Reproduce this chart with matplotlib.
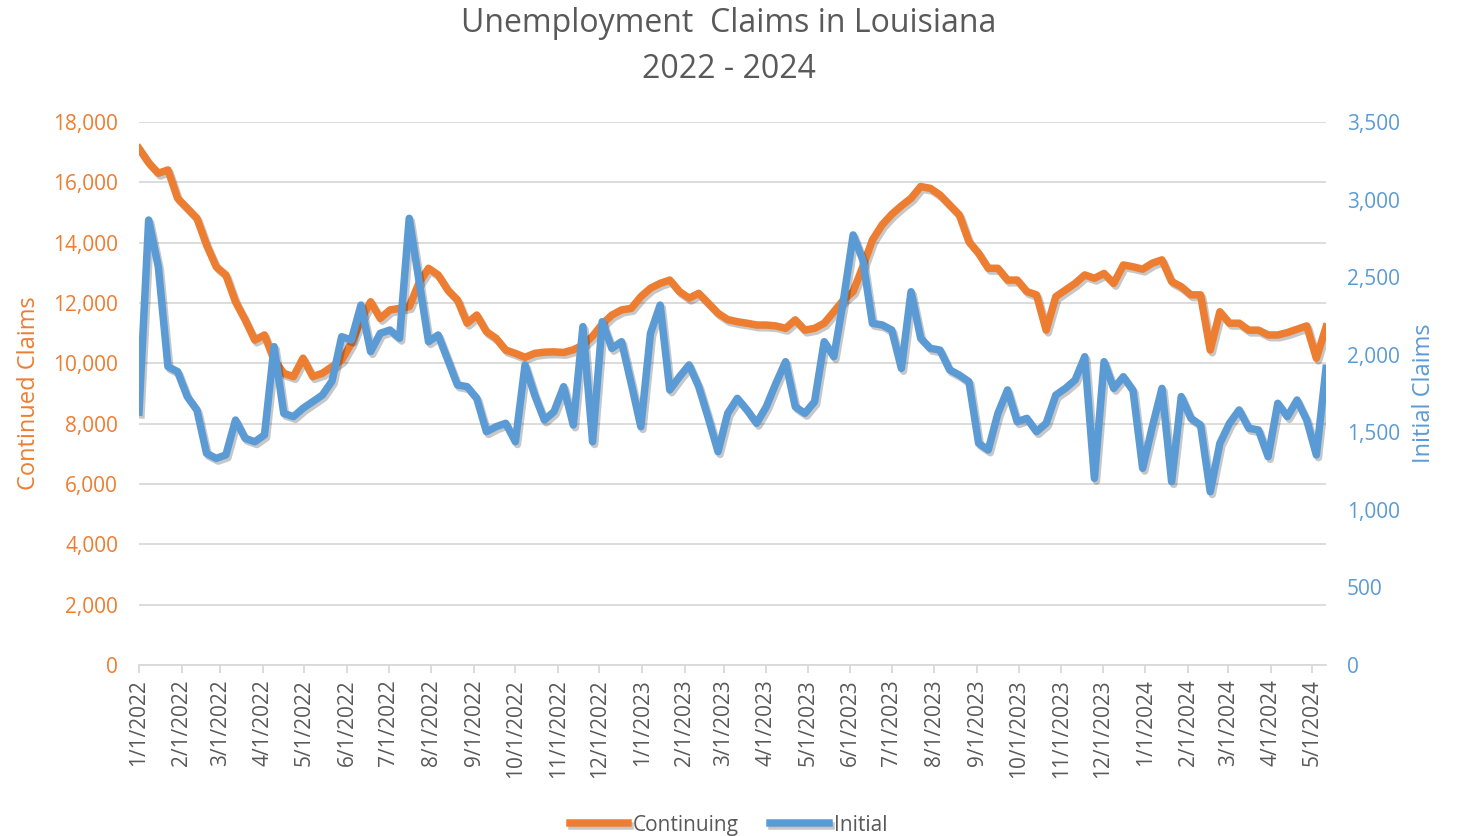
import matplotlib
matplotlib.use('Agg')
import matplotlib.pyplot as plt
import matplotlib.patheffects as pe
import datetime as dt

# weekly data, week ending 1/1/2022 .. 5/11/2024
start = dt.date(2022, 1, 1)
n_weeks = 124
weeks = [start + dt.timedelta(days=7 * i) for i in range(n_weeks)]

continuing = [
    17120, 16650, 16300, 16410, 15470, 15140, 14810, 13920, 13200, 12930,
    12040, 11440, 10770, 10940, 10110, 9670, 9560, 10170, 9560, 9670,
    9890, 10110, 10660, 11440, 12040, 11490, 11770, 11820, 11880, 12650,
    13150, 12930, 12430, 12100, 11330, 11600, 11050, 10830, 10440, 10330,
    10200, 10330, 10370, 10380, 10360, 10450, 10600, 10900, 11300, 11600,
    11770, 11820, 12210, 12490, 12650, 12760, 12380, 12160, 12320, 11990,
    11660, 11450, 11380, 11330, 11270, 11270, 11240, 11160, 11440, 11100,
    11160, 11330, 11710, 12100, 12380, 13200, 14090, 14590, 14940, 15220,
    15470, 15860, 15800, 15580, 15250, 14920, 14030, 13650, 13150, 13150,
    12760, 12760, 12380, 12270, 11100, 12210, 12430, 12650, 12930, 12820,
    12980, 12650, 13260, 13200, 13120, 13320, 13430, 12710, 12540, 12270,
    12270, 10440, 11710, 11330, 11330, 11100, 11100, 10940, 10940, 11020,
    11130, 11240, 10170, 11200,
]

initial = [
    1630, 2868, 2567, 1923, 1891, 1730, 1644, 1364, 1332, 1354,
    1579, 1461, 1439, 1483, 2052, 1622, 1601, 1655, 1697, 1740,
    1830, 2116, 2095, 2320, 2020, 2138, 2159, 2106, 2879, 2482,
    2084, 2127, 1966, 1805, 1794, 1719, 1504, 1536, 1558, 1439,
    1934, 1740, 1579, 1633, 1794, 1547, 2181, 1439, 2213, 2041,
    2084, 1816, 1536, 2138, 2320, 1773, 1858, 1934, 1794, 1590,
    1375, 1622, 1719, 1644, 1558, 1665, 1816, 1955, 1665, 1622,
    1697, 2084, 1987, 2353, 2772, 2611, 2202, 2192, 2159, 1912,
    2406, 2106, 2041, 2030, 1902, 1869, 1826, 1429, 1386, 1622,
    1773, 1568, 1590, 1504, 1558, 1740, 1783, 1837, 1987, 1203,
    1955, 1783, 1858, 1770, 1268, 1536, 1783, 1182, 1730, 1590,
    1547, 1117, 1429, 1558, 1644, 1526, 1515, 1343, 1687, 1601,
    1708, 1579, 1354, 1912,
]

left_ticks = [0, 2000, 4000, 6000, 8000, 10000, 12000, 14000, 16000, 18000]
right_ticks = [0, 500, 1000, 1500, 2000, 2500, 3000, 3500]

orange = '#ED7D31'
blue = '#5B9BD5'
gray = '#595959'
grid_gray = '#D9D9D9'

plt.rcParams['font.family'] = ['Open Sans', 'DejaVu Sans']

fig = plt.figure(figsize=(14.57, 8.36), dpi=100)
ax = fig.add_axes([0.0954, 0.2045, 0.8147, 0.6496])
ax2 = ax.twinx()

shadow = [pe.SimpleLineShadow(offset=(1.5, -2), alpha=0.22, shadow_color='k'), pe.Normal()]

l1, = ax.plot(weeks, continuing, color=orange, lw=5.4, solid_joinstyle='round',
              label='Continuing', path_effects=shadow)
l2, = ax2.plot(weeks, initial, color=blue, lw=5.4, solid_joinstyle='round',
               label='Initial', path_effects=shadow)

ax.set_ylim(0, 18000)
ax2.set_ylim(0, 3500)
ax.set_yticks(left_ticks)
ax2.set_yticks(right_ticks)
ax.set_yticklabels(['{:,}'.format(v) for v in left_ticks], color=orange, fontsize=15)
ax2.set_yticklabels(['{:,}'.format(v) for v in right_ticks], color=blue, fontsize=15)
ax.grid(axis='y', color=grid_gray, lw=1.3)
ax.set_axisbelow(True)

ax.set_xlim(weeks[0], weeks[-1])
month_ticks = []
y, m = 2022, 1
while dt.date(y, m, 1) <= weeks[-1]:
    month_ticks.append(dt.date(y, m, 1))
    m += 1
    if m > 12:
        m = 1
        y += 1
ax.set_xticks(month_ticks)
ax.set_xticklabels(['%d/%d/%d' % (d.month, d.day, d.year) for d in month_ticks],
                   rotation=90, fontsize=15, color=gray)

for a in (ax, ax2):
    for s in ('top', 'left', 'right', 'bottom'):
        a.spines[s].set_visible(False)
ax.spines['bottom'].set_visible(True)
ax.spines['bottom'].set_color(grid_gray)
ax.spines['bottom'].set_linewidth(1.3)
ax.tick_params(axis='x', direction='out', length=6, color=grid_gray, width=1.3, pad=4)
ax.tick_params(axis='y', length=0, pad=15)
ax2.tick_params(axis='y', length=0, pad=15)

ax.set_ylabel('Continued Claims', color=orange, fontsize=17, labelpad=9)
ax2.set_ylabel('Initial Claims', color=blue, fontsize=17, labelpad=9)

fig.text(0.5, 0.972, 'Unemployment  Claims in Louisiana', ha='center', va='center',
         fontsize=23, color=gray)
fig.text(0.5, 0.917, '2022 - 2024', ha='center', va='center', fontsize=23, color=gray)

fig.legend(handles=[l1, l2], loc='center', bbox_to_anchor=(0.5, 0.013), ncol=2,
           frameon=False, fontsize=15, handlelength=2.8, handletextpad=0.25,
           columnspacing=1.5, labelcolor=gray)

fig.savefig('out.png', dpi=100)
